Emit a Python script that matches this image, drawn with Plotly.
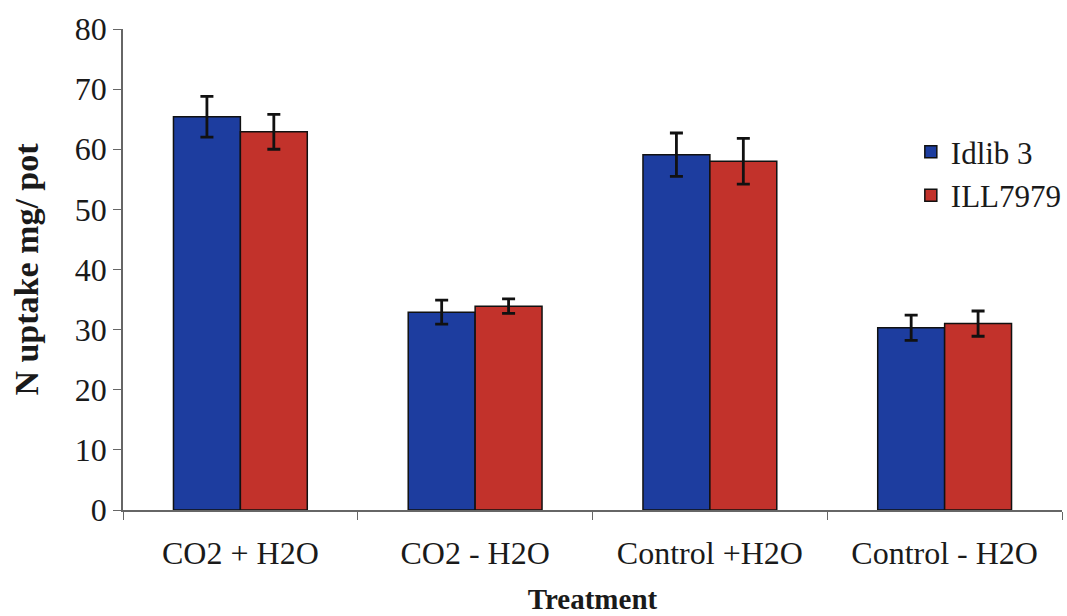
import plotly.graph_objects as go

treatments = ["CO2 + H2O", "CO2 - H2O", "Control +H2O", "Control - H2O"]
idlib3 = [65.4, 32.9, 59.1, 30.3]
idlib3_err = [3.4, 2.0, 3.6, 2.1]
ill7979 = [62.9, 33.9, 58.0, 31.0]
ill7979_err = [2.9, 1.2, 3.8, 2.1]

serif = "Liberation Serif, Times New Roman, serif"
ink = "#1a1a1a"

fig = go.Figure()
fig.add_trace(go.Bar(
    name="Idlib 3", x=treatments, y=idlib3,
    marker=dict(color="#1d3d9f", line=dict(color="#111111", width=1.5)),
    error_y=dict(type="data", array=idlib3_err, color="#111111", thickness=2.8, width=6.5),
))
fig.add_trace(go.Bar(
    name="ILL7979", x=treatments, y=ill7979,
    marker=dict(color="#c2322b", line=dict(color="#111111", width=1.5)),
    error_y=dict(type="data", array=ill7979_err, color="#111111", thickness=2.8, width=6.5),
))

fig.update_layout(
    width=1067, height=616,
    margin=dict(l=123, r=5, t=29, b=106, autoexpand=False),
    paper_bgcolor="white", plot_bgcolor="white",
    barmode="group", bargap=0.43, bargroupgap=0,
    font=dict(family=serif, size=31, color=ink),
    legend=dict(
        x=0.839, y=0.80, xanchor="left", yanchor="top",
        font=dict(family=serif, size=31, color=ink),
        bgcolor="rgba(0,0,0,0)", itemwidth=30,
    ),
    showlegend=True,
)
fig.update_xaxes(
    showline=True, linecolor="#666666", linewidth=1.5,
    ticks="outside", tickson="boundaries", ticklen=8, tickcolor="#666666",
    ticklabelstandoff=14,
    tickfont=dict(family=serif, size=32, color=ink),
    title=dict(text="<b>Treatment</b>", font=dict(family=serif, size=29, color=ink), standoff=19),
    showgrid=False,
)
fig.update_yaxes(
    range=[0, 80], dtick=10, showline=True, linecolor="#666666", linewidth=1.5,
    ticks="outside", ticklen=8, tickcolor="#666666",
    tickfont=dict(family=serif, size=32, color=ink),
    title=dict(text="<b>N uptake mg/ pot</b>", font=dict(family=serif, size=34, color=ink), standoff=26),
    showgrid=False, zeroline=False,
)

fig.write_html("out.html")
